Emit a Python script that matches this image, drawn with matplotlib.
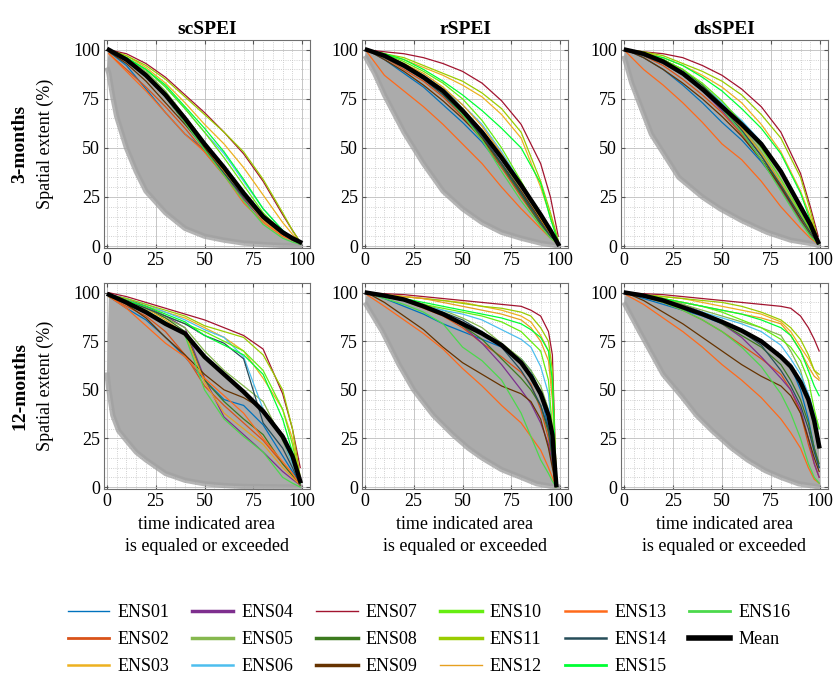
#Purpose: drought duration curves for the three SPEI variants (3 and 12 months)
##########################################
#Load common libraries
import matplotlib
matplotlib.use('Agg')
import matplotlib.pyplot as plt
from matplotlib.lines import Line2D
from matplotlib.ticker import MultipleLocator

plt.rcParams['font.family'] = ['Liberation Serif', 'DejaVu Serif']

##########################################
#Define data
ens_names = ['ENS%02d' % i for i in range(1, 17)]
ens_colors = ['#0072BD', '#D95319', '#EDB120', '#7E2F8E', '#86B84E', '#4DBEEE',
			  '#A2142F', '#3C7A1E', '#663300', '#66EE11', '#99CC00', '#E6A020',
			  '#FF6A1A', '#264D59', '#00FF33', '#4CD94C']
legend_widths = [1.0, 2.0, 1.8, 2.5, 2.5, 1.8, 1.0, 2.5, 2.5, 2.5, 2.5, 1.0, 1.8, 1.8, 2.0, 2.0]

col_titles = ['scSPEI', 'rSPEI', 'dsSPEI']
row_titles = ['3-months', '12-months']

#---- scSPEI, 3 months
sc3_x = [1, 10, 20, 30, 40, 50, 60, 70, 80, 90, 95, 99]
sc3_mean = [100, 95, 87, 77, 65, 52, 40, 27, 15, 7, 4, 2]
sc3_low_x = [0, 1, 3, 5, 10, 15, 20, 30, 40, 50, 60, 70, 80, 90, 100]
sc3_low_y = [91, 88, 76, 66, 50, 38, 28, 17, 9, 5, 3, 1.5, 0.8, 0.3, 0]
sc3_ens = [
	[99, 92, 80, 68, 57, 49, 37, 24, 13, 6, 3, 1],
	[98, 90, 81, 71, 60, 48, 36, 24, 14, 6, 3, 1],
	[100, 97, 91, 83, 73, 62, 52, 40, 26, 12, 6, 2],
	[100, 95, 88, 76, 63, 50, 37, 24, 13, 6, 3, 1],
	[100, 96, 89, 79, 66, 53, 40, 27, 15, 6, 3, 1],
	[100, 96, 90, 81, 70, 58, 47, 33, 19, 8, 4, 1],
	[100, 98, 93, 86, 77, 68, 58, 47, 33, 16, 8, 2],
	[100, 95, 88, 78, 64, 50, 38, 26, 14, 6, 3, 1],
	[99, 93, 84, 73, 62, 50, 38, 25, 14, 6, 3, 1],
	[100, 96, 90, 81, 70, 58, 45, 31, 17, 7, 3, 1],
	[100, 97, 92, 85, 76, 67, 58, 48, 34, 17, 8, 2],
	[100, 95, 87, 77, 64, 51, 38, 25, 13, 5, 3, 1],
	[98, 89, 79, 68, 57, 48, 36, 22, 12, 5, 3, 1],
	[100, 95, 87, 76, 63, 49, 37, 25, 14, 6, 3, 1],
	[100, 96, 90, 82, 71, 60, 48, 34, 19, 8, 4, 1],
	[100, 95, 87, 76, 63, 49, 36, 23, 11, 4, 2, 1]]

#---- rSPEI, 3 months
r3_x = [1, 10, 20, 30, 40, 50, 60, 70, 80, 90, 95, 99]
r3_mean = [100, 97, 92, 86, 79, 69, 58, 45, 31, 16, 8, 1]
r3_low_x = [0, 5, 10, 20, 30, 40, 50, 60, 70, 80, 90, 100]
r3_low_y = [97, 88, 77, 58, 42, 28, 19, 12, 7, 4, 1.5, 0]
r3_ens = [
	[100, 95, 88, 81, 72, 63, 53, 40, 27, 13, 6, 1],
	[100, 96, 90, 84, 76, 66, 54, 40, 25, 11, 5, 1],
	[100, 98, 95, 91, 87, 82, 76, 67, 55, 30, 15, 2],
	[100, 97, 92, 86, 78, 68, 56, 42, 27, 12, 5, 1],
	[100, 97, 93, 87, 80, 70, 58, 44, 28, 13, 6, 1],
	[100, 97, 92, 87, 80, 72, 62, 48, 32, 15, 7, 1],
	[100, 99, 98, 96, 93, 89, 83, 74, 62, 42, 25, 5],
	[100, 97, 92, 86, 78, 67, 55, 41, 26, 11, 5, 1],
	[100, 95, 89, 82, 74, 65, 55, 42, 28, 13, 6, 1],
	[100, 98, 94, 89, 83, 75, 64, 50, 33, 15, 7, 1],
	[100, 98, 96, 92, 88, 84, 78, 70, 58, 33, 17, 3],
	[100, 97, 93, 88, 81, 72, 61, 47, 31, 14, 6, 1],
	[99, 87, 79, 71, 62, 52, 42, 30, 19, 9, 4, 1],
	[100, 96, 91, 85, 77, 67, 56, 42, 27, 12, 5, 1],
	[100, 98, 95, 90, 84, 77, 69, 60, 50, 32, 14, 2],
	[100, 97, 92, 86, 78, 67, 54, 38, 23, 10, 4, 1]]

#---- dsSPEI, 3 months
ds3_x = [1, 10, 20, 30, 40, 50, 60, 70, 80, 90, 95, 99]
ds3_mean = [100, 98, 94, 88, 80, 71, 62, 52, 38, 20, 11, 2]
ds3_low_x = [0, 4, 14, 28, 40, 49, 60, 73, 85, 97, 100]
ds3_low_y = [97, 83, 57, 35, 25, 19, 13, 7, 3, 1, 0]
ds3_ens = [
	[100, 96, 90, 82, 73, 63, 54, 43, 30, 15, 8, 1],
	[100, 97, 92, 85, 77, 68, 57, 44, 29, 13, 6, 1],
	[100, 99, 96, 92, 87, 81, 73, 62, 48, 28, 15, 3],
	[100, 98, 94, 88, 79, 69, 58, 44, 29, 13, 6, 1],
	[100, 98, 95, 89, 82, 73, 61, 48, 32, 16, 8, 1],
	[100, 98, 94, 89, 82, 73, 64, 53, 38, 19, 9, 1],
	[100, 99, 98, 96, 92, 87, 80, 71, 58, 37, 20, 5],
	[100, 98, 95, 90, 82, 72, 60, 46, 30, 14, 6, 1],
	[100, 96, 90, 83, 75, 66, 56, 44, 30, 14, 7, 1],
	[100, 98, 95, 90, 83, 74, 63, 50, 34, 17, 8, 1],
	[100, 99, 97, 93, 89, 84, 77, 67, 55, 35, 18, 3],
	[100, 98, 94, 88, 80, 71, 60, 47, 32, 15, 7, 1],
	[99, 90, 82, 73, 63, 52, 44, 33, 20, 9, 4, 1],
	[100, 97, 93, 87, 79, 70, 59, 46, 31, 15, 7, 1],
	[100, 98, 96, 92, 86, 79, 70, 60, 47, 27, 13, 2],
	[100, 98, 94, 88, 80, 70, 58, 44, 28, 12, 5, 1]]

#---- scSPEI, 12 months
sc12_x = [1, 10, 20, 30, 40, 50, 60, 70, 80, 90, 95, 99]
sc12_mean = [99, 95, 90, 84, 79, 67, 58, 49, 39, 26, 16, 3]
sc12_low_x = [0, 1, 3, 6, 10, 15, 20, 30, 40, 50, 60, 70, 100]
sc12_low_y = [59, 50, 37, 29, 24, 18, 14, 7, 3.5, 1.7, 0.8, 0.3, 0]
sc12_ens = [
	[98, 92, 86, 77, 67, 55, 45, 42, 32, 16, 8, 2],
	[98, 93, 88, 80, 68, 52, 42, 33, 24, 12, 6, 1],
	[99, 96, 93, 90, 87, 82, 77, 70, 56, 40, 25, 4],
	[99, 97, 93, 88, 82, 56, 36, 27, 18, 8, 4, 1],
	[99, 96, 92, 87, 82, 70, 60, 52, 44, 24, 12, 2],
	[99, 97, 94, 90, 86, 81, 77, 67, 40, 25, 12, 2],
	[100, 98, 95, 92, 89, 86, 82, 78, 71, 48, 30, 10],
	[99, 96, 92, 87, 80, 55, 44, 35, 27, 12, 6, 1],
	[99, 94, 87, 77, 68, 58, 50, 46, 40, 27, 15, 2],
	[98, 95, 92, 88, 84, 80, 75, 70, 60, 40, 22, 3],
	[99, 97, 94, 91, 88, 83, 80, 77, 68, 50, 30, 5],
	[99, 96, 92, 86, 79, 54, 38, 30, 22, 10, 5, 1],
	[98, 92, 83, 74, 67, 56, 47, 38, 25, 13, 7, 1],
	[99, 96, 92, 88, 84, 78, 74, 66, 33, 20, 10, 1],
	[99, 96, 93, 89, 85, 78, 73, 68, 58, 35, 18, 2],
	[99, 96, 91, 85, 78, 50, 35, 26, 18, 5, 2, 0]]

#---- rSPEI, 12 months
r12_x = [1, 10, 20, 30, 40, 50, 60, 70, 80, 85, 90, 94, 96, 98]
r12_mean = [100, 98.5, 96.5, 93, 89, 84, 79, 73, 64, 57, 48, 37, 27, 1]
r12_low_x = [0, 9, 17.5, 25, 35, 45, 53, 60, 70, 80, 88, 95, 100]
r12_low_y = [95, 80, 63, 50, 37, 27, 20, 15, 9, 5, 1.7, 0.5, 0]
r12_ens = [
	[100, 97, 93, 89, 84, 80, 76, 72, 66, 60, 48, 30, 15, 0],
	[100, 98, 96, 92, 88, 82, 74, 67, 59, 53, 40, 25, 12, 0],
	[100, 99, 98, 97, 96, 95, 93, 91, 88, 85, 78, 70, 50, 3],
	[100, 99, 97, 94, 89, 83, 74, 63, 50, 43, 33, 22, 12, 0],
	[100, 99, 97, 94, 91, 87, 82, 74, 66, 60, 52, 40, 22, 1],
	[100, 98, 96, 93, 91, 89, 86, 81, 76, 72, 62, 48, 25, 1],
	[100, 99.5, 99, 98, 97, 96, 95, 94, 93, 91, 88, 80, 68, 2],
	[100, 98, 96, 93, 89, 83, 76, 66, 56, 50, 42, 28, 15, 0],
	[100, 95, 88, 81, 72, 64, 58, 52, 48, 44, 35, 20, 10, 0],
	[100, 98, 96, 94, 92, 90, 88, 85, 80, 75, 70, 55, 30, 2],
	[100, 99, 98, 97, 96, 94.5, 93, 92, 90, 88, 82, 75, 60, 5],
	[100, 99, 98, 97, 95, 93, 91, 89, 86, 82, 75, 65, 45, 2],
	[99, 93, 86, 79, 71, 61, 52, 42, 33, 26, 19, 10, 5, 0],
	[100, 98, 96, 93, 90, 86, 80, 72, 60, 52, 42, 30, 15, 0],
	[100, 99, 97, 95, 93, 91, 89, 87, 84, 81, 77, 70, 55, 2],
	[100, 97, 94, 90, 84, 72, 65, 55, 38, 26, 14, 7, 3, 0]]

#---- dsSPEI, 12 months
ds12_x = [1, 10, 20, 30, 40, 50, 60, 70, 80, 85, 90, 94, 97, 99.5]
ds12_mean = [100, 98.5, 96, 92.5, 89, 85, 80.5, 75, 67, 62, 54, 45, 34, 21]
ds12_low_x = [0, 8, 20, 30, 37, 45, 55, 63, 72, 80, 89, 100]
ds12_low_y = [95, 80, 58, 46, 37, 29, 20, 14, 8.5, 5, 1.7, 0]
ds12_ens = [
	[100, 97, 94, 91, 88, 84, 80, 75, 68, 62, 50, 35, 20, 10],
	[100, 98, 95, 91, 86, 80, 73, 66, 58, 50, 38, 22, 12, 5],
	[100, 99, 98, 97, 95, 93, 91, 89, 85, 80, 72, 66, 60, 56],
	[100, 99, 97, 94, 90, 84, 77, 67, 56, 50, 40, 25, 12, 5],
	[100, 99, 97, 94, 91, 88, 85, 82, 78, 70, 60, 45, 30, 20],
	[100, 98, 96, 93, 90, 87, 84, 80, 73, 66, 58, 48, 38, 30],
	[100, 99.5, 99, 98, 97, 96, 95, 94, 93, 92, 88, 82, 76, 70],
	[100, 98, 96, 93, 89, 84, 78, 72, 63, 55, 45, 33, 20, 12],
	[100, 96, 90, 84, 77, 70, 63, 57, 52, 47, 38, 25, 15, 8],
	[100, 99, 97, 95, 93, 90, 86, 82, 76, 72, 65, 55, 40, 30],
	[100, 99, 98, 97, 96, 95, 93, 90, 86, 82, 76, 68, 60, 58],
	[100, 99, 97, 95, 93, 91, 89, 87, 84, 78, 70, 62, 57, 55],
	[99, 94, 87, 80, 72, 63, 55, 46, 35, 28, 20, 10, 4, 2],
	[100, 98, 96, 93, 89, 85, 80, 73, 60, 52, 42, 30, 18, 10],
	[100, 99, 97, 95, 93, 91, 89, 86, 82, 78, 70, 60, 52, 47],
	[100, 98, 95, 91, 86, 80, 72, 62, 48, 38, 25, 12, 5, 2]]

panels = [[(sc3_x, sc3_mean, sc3_low_x, sc3_low_y, sc3_ens),
		   (r3_x, r3_mean, r3_low_x, r3_low_y, r3_ens),
		   (ds3_x, ds3_mean, ds3_low_x, ds3_low_y, ds3_ens)],
		  [(sc12_x, sc12_mean, sc12_low_x, sc12_low_y, sc12_ens),
		   (r12_x, r12_mean, r12_low_x, r12_low_y, r12_ens),
		   (ds12_x, ds12_mean, ds12_low_x, ds12_low_y, ds12_ens)]]

##########################################
#Figure layout (pixel based, 835x675)
W, H = 835., 675.
col_left = [104, 362, 621]
col_width = [206, 206, 207]
row_top = [40, 283]
row_height = [208, 206]

font_size = 13

fig = plt.figure(figsize=(W / 100, H / 100), dpi=100)

for rowi in range(2):
	for coli in range(3):
		xs, mean, low_x, low_y, ens = panels[rowi][coli]
		ax = fig.add_axes([col_left[coli] / W, 1 - (row_top[rowi] + row_height[rowi]) / H,
						   col_width[coli] / W, row_height[rowi] / H])

		#Gray envelope between lower curve and mean
		ax.fill(list(xs) + low_x[::-1], list(mean) + low_y[::-1], color='#ababab', lw=0, zorder=1)
		ax.plot(low_x, low_y, color='#a2a2a2', lw=3.8, alpha=0.8, solid_capstyle='butt', zorder=2)

		#Ensemble members
		for ei in range(16):
			ax.plot(xs, ens[ei], color=ens_colors[ei], lw=0.9, zorder=3)

		#Ensemble mean
		ax.plot(xs, mean, color='black', lw=3.2, zorder=4)

		ax.set_xlim(-1.5, 104)
		ax.set_ylim(-1, 105)
		ax.xaxis.set_major_locator(MultipleLocator(25))
		ax.yaxis.set_major_locator(MultipleLocator(25))
		ax.xaxis.set_minor_locator(MultipleLocator(5))
		ax.yaxis.set_minor_locator(MultipleLocator(5))
		ax.grid(which='major', color='#bdbdbd', lw=0.6, ls='-', zorder=0)
		ax.grid(which='minor', color='#c2c2c2', lw=0.6, ls=':', zorder=0)
		ax.set_axisbelow(True)
		ax.tick_params(which='both', direction='in', top=True, right=True, labelsize=font_size,
					   color='#555555', pad=3)
		ax.tick_params(which='major', length=3)
		ax.tick_params(which='minor', length=0)
		for sp in ax.spines.values():
			sp.set_color('#6f6f6f')
			sp.set_linewidth(0.8)

		if rowi == 0:
			ax.set_title(col_titles[coli], fontsize=font_size + 1, fontweight='bold', pad=4)
		else:
			ax.set_xlabel('time indicated area\nis equaled or exceeded', fontsize=font_size,
						  labelpad=4, linespacing=1.4)

	#Row labels
	yc = 1 - (row_top[rowi] + row_height[rowi] / 2.) / H
	fig.text(20 / W, yc, row_titles[rowi], rotation=90, ha='center', va='center',
			 fontsize=font_size + 1, fontweight='bold')
	fig.text(45 / W, yc, 'Spatial extent (%)', rotation=90, ha='center', va='center', fontsize=font_size)

##########################################
#Legend
handles = [Line2D([], [], color=ens_colors[i], lw=legend_widths[i]) for i in range(16)]
handles.append(Line2D([], [], color='black', lw=4))
labels = ens_names + ['Mean']
fig.legend(handles, labels, loc='center', bbox_to_anchor=(0.514, 0.052), ncol=6, frameon=False,
		   fontsize=font_size, handlelength=2.3, handletextpad=0.45, columnspacing=1.25, labelspacing=0.55)

#Save
plt.savefig('out.png', dpi=100)
